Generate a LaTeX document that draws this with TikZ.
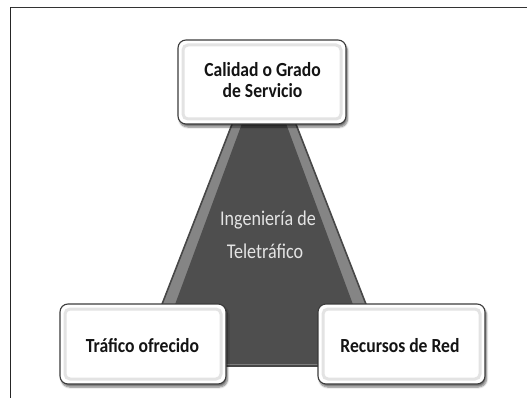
\documentclass[tikz,border=0pt]{standalone}
\usepackage{fontspec}
\setmainfont{Carlito}
\usetikzlibrary{shadows.blur}
\definecolor{tridark}{HTML}{4E4E4E}
\definecolor{triband}{HTML}{858585}
\definecolor{boxline}{HTML}{3C3C3C}
\definecolor{innertxt}{HTML}{E4E4E4}
\tikzset{
  framebox/.style={draw=boxline, line width=1.1pt, rounded corners=8pt, fill=white,
    minimum width=#1, minimum height=80pt, inner sep=0pt,
    blur shadow={shadow xshift=1.5pt, shadow yshift=-3pt, shadow blur steps=6, shadow opacity=55},
    path picture={
      \fill[black, opacity=0.06] (264,42) -- (138,366) -- (390,366) -- cycle;
      \draw[gray!22, line width=3pt, rounded corners=5pt]
        ([xshift=5pt,yshift=-5pt]path picture bounding box.north west) rectangle
        ([xshift=-5pt,yshift=5pt]path picture bounding box.south east);
    }},
  boxtext/.style={font=\fontsize{20}{21}\bfseries\selectfont, text=black!92, inner sep=0pt, anchor=base, xscale=0.88},
  tritext/.style={font=\fontsize{21}{21}\selectfont, text=innertxt, inner sep=0pt, anchor=base, xscale=0.86},
  frameline/.style={draw=black!80, line width=1.3pt}
}
\begin{document}
\begin{tikzpicture}[x=1pt,y=-1pt]
\useasboundingbox (0,0) rectangle (527,398);
% frame
\coordinate (ftl) at (10,7.5);
\coordinate (ftr) at (527,7.5);
\coordinate (fbl) at (10,398);
\draw[frameline] (ftr) -- (ftl);
\draw[draw=black!85, line width=1pt] (ftl) -- (fbl);
% triangle
\coordinate (apex) at (264,42);
\coordinate (bl) at (138,366);
\coordinate (br) at (390,366);
\coordinate (iapex) at (264,64);
\coordinate (ibl) at (153,364);
\coordinate (ibr) at (375,364);
\fill[triband] (apex) -- (bl) -- (br) -- cycle;
\fill[tridark] (iapex) -- (ibl) -- (ibr) -- cycle;
\draw[black!72, line width=1.6pt] (apex) -- (bl) -- (br) -- cycle;
\node[tritext] (ing1) at (268,225) {Ingeniería de};
\node[tritext] (ing2) at (265,258) {Teletráfico};
% boxes
\node[framebox=168pt, minimum height=84pt] (top) at (262,82) {};
\node[framebox=166pt] (left) at (143,344) {};
\node[framebox=167pt] (right) at (401.5,344) {};
\node[boxtext] (topt1) at (262.5,77) {Calidad o Grado};
\node[boxtext] (topt2) at (262.5,98) {de Servicio};
\node[boxtext] (leftt) at (142.5,352) {Tráfico ofrecido};
\node[boxtext] (rightt) at (400,352) {Recursos de Red};
\end{tikzpicture}
\end{document}
